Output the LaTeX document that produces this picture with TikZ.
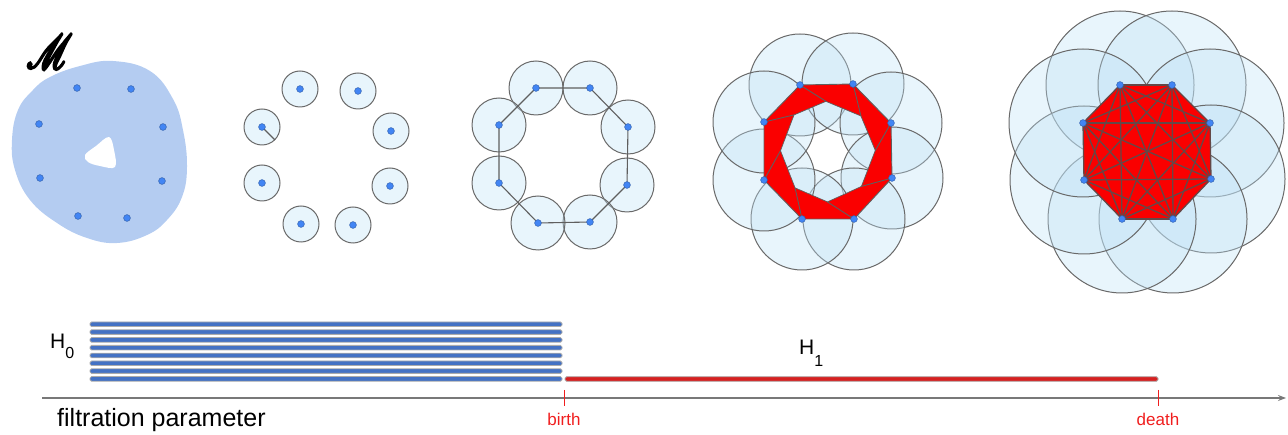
\documentclass[tikz,border=0pt]{standalone}
\usepackage{fontspec}
\setmainfont{Liberation Sans}
\usepackage{mathrsfs}
\usepackage{graphicx}
\usetikzlibrary{arrows.meta,calc}
\definecolor{blob}{RGB}{180,204,241}
\definecolor{dotc}{RGB}{66,133,244}
\definecolor{dotb}{RGB}{50,95,170}
\definecolor{circf}{RGB}{190,225,245}
\definecolor{circd}{RGB}{105,105,105}
\definecolor{edgec}{RGB}{95,95,95}
\definecolor{kedge}{RGB}{100,72,72}
\definecolor{redf}{RGB}{250,0,0}
\definecolor{barblue}{RGB}{68,114,196}
\definecolor{barred}{RGB}{214,32,32}
\definecolor{axisc}{RGB}{120,120,120}
\definecolor{labred}{RGB}{240,30,30}
\tikzset{
  dot/.style={circle, fill=dotc, draw=dotb, line width=0.5pt, inner sep=0pt, minimum size=6.8pt},
  circ/.style={fill=circf, fill opacity=0.35, draw=circd, draw opacity=1, line width=1pt},
  edge/.style={draw=edgec, line width=1.1pt},
  bar/.style={draw=gray!65, line width=0.8pt, rounded corners=1.5pt},
  lab/.style={font=\fontsize{21}{21}\selectfont, inner sep=0pt},
  redlab/.style={text=labred, font=\fontsize{17}{17}\selectfont, inner sep=0pt},
  tick/.style={draw=labred, line width=1pt}
}
\begin{document}
\begin{tikzpicture}[x=1pt,y=-1pt]
\useasboundingbox (0,0) rectangle (1288,435);

% ---------- panel 1: manifold ----------
\fill[blob] plot[smooth cycle, tension=0.7] coordinates {
 (50,77) (80,66) (113,61) (150,71) (173,99) (183,130) (187,167) (182,197)
 (167,220) (147,235) (117,243) (87,238) (57,223) (30,200) (15,170) (12,140) (18,110) (33,90)};
\fill[white] plot[smooth cycle, tension=0.6] coordinates {
 (109,137) (114,150) (115,167) (100,166) (88,162) (85,155) (96,146)};
\node[inner sep=0pt] (M) at (49.5,51.5)
  {\resizebox{46pt}{34pt}{\special{pdf:literal direct 2 Tr 0.5 w}$\mathscr{M}$\special{pdf:literal direct 0 Tr}}};
\foreach \n/\x/\y in {0/77/88,1/131/89,2/163/127,3/162/181,4/127/218,5/78/216,6/40/178,7/39/124}
  \node[dot] (a\n) at (\x,\y) {};

% ---------- panel 2 ----------
\foreach \n/\x/\y in {0/300/89,1/358/91,2/391/131,3/390/186,4/353/225,5/301/224,6/262/183,7/262/127}
  \coordinate (b\n) at (\x,\y);
\foreach \n in {0,...,7} \draw[circ] (b\n) circle[radius=18pt];
\coordinate (bs) at (275,140);
\draw[edge] (b7) -- (bs);
\foreach \n in {0,...,7} \node[dot] (db\n) at (b\n) {};

% ---------- panel 3 ----------
\foreach \n/\x/\y in {0/536/88,1/590/88,2/628/127,3/627/185,4/590/222,5/538/223,6/499/183,7/499/125}
  \coordinate (c\n) at (\x,\y);
\foreach \n in {0,...,7} \draw[circ] (c\n) circle[radius=27pt];
\draw[edge] (c0)--(c1)--(c2)--(c3)--(c4)--(c5)--(c6)--(c7)--cycle;
\foreach \n in {0,...,7} \node[dot] (dc\n) at (c\n) {};

% ---------- panel 4 ----------
\foreach \n/\x/\y in {0/800/85,1/853/84,2/891/123,3/892/178,4/854/219,5/802/219,6/764/180,7/764/122}
  \coordinate (d\n) at (\x,\y);
\foreach \n in {0,...,7} \draw[circ] (d\n) circle[radius=51pt];
\coordinate (cen) at (828,152);
\coordinate (k0) at (intersection of d7--d1 and d0--d2);
\coordinate (k1) at (intersection of d0--d2 and d1--d3);
\coordinate (k2) at (intersection of d1--d3 and d2--d4);
\coordinate (k3) at (intersection of d2--d4 and d3--d5);
\coordinate (k4) at (intersection of d3--d5 and d4--d6);
\coordinate (k5) at (intersection of d4--d6 and d5--d7);
\coordinate (k6) at (intersection of d5--d7 and d6--d0);
\coordinate (k7) at (intersection of d6--d0 and d7--d1);
\foreach \i in {0,...,7} \coordinate (m\i) at ($(cen)!0.9!(k\i)$);
\fill[redf, even odd rule] (d0)--(d1)--(d2)--(d3)--(d4)--(d5)--(d6)--(d7)--cycle
   (m0)--(m1)--(m2)--(m3)--(m4)--(m5)--(m6)--(m7)--cycle;
\draw[edge, line width=0.9pt] (d0)--(d1)--(d2)--(d3)--(d4)--(d5)--(d6)--(d7)--cycle;
\draw[edge, line width=0.7pt] (m0)--(m1)--(m2)--(m3)--(m4)--(m5)--(m6)--(m7)--cycle;
\foreach \i in {0,...,7} \draw[edge, line width=0.9pt] (d\i) -- (m\i);
\foreach \n in {0,...,7} \node[dot] (dd\n) at (d\n) {};

% ---------- panel 5 ----------
\foreach \n/\x/\y in {0/1120/85,1/1172/85,2/1210/123,3/1211/179,4/1173/219,5/1122/219,6/1084/180,7/1083/123}
  \coordinate (e\n) at (\x,\y);
\foreach \n in {0,...,7} \draw[circ] (e\n) circle[radius=74pt];
\fill[redf] (e0)--(e1)--(e2)--(e3)--(e4)--(e5)--(e6)--(e7)--cycle;
\foreach \i in {0,...,6} {
  \pgfmathtruncatemacro\s{\i+1}
  \foreach \j in {\s,...,7} \draw[draw=kedge, line width=1.3pt] (e\i) -- (e\j);
}
\foreach \n in {0,...,7} \node[dot] (de\n) at (e\n) {};

% ---------- barcode ----------
\foreach \k in {0,...,7} {
  \pgfmathsetmacro\yy{324.3+7.8*\k}
  \filldraw[bar, fill=barblue] (90,\yy-2.3) rectangle (562,\yy+2.3);
}
\filldraw[bar, fill=barred] (565,376.7) rectangle (1158,381.3);

\node[lab, anchor=base west] (H0) at (50,349) {H\raisebox{-10pt}{\fontsize{16}{16}\selectfont 0}};
\node[lab, anchor=base west] (H1) at (799,355) {H\raisebox{-12pt}{\fontsize{16}{16}\selectfont 1}};

% axis
\coordinate (ax0) at (42,398);
\coordinate (ax1) at (1286,398);
\draw[axisc, line width=1.2pt, -{Stealth[length=8pt,width=6pt]}] (ax0) -- (ax1);
\coordinate (bt0) at (564,390); \coordinate (bt1) at (564,406);
\coordinate (dt0) at (1158,390); \coordinate (dt1) at (1158,406);
\draw[tick] (bt0) -- (bt1);
\draw[tick] (dt0) -- (dt1);
\node[redlab, anchor=base] (birth) at (564,425) {birth};
\node[redlab, anchor=base] (death) at (1158,425) {death};
\node[inner sep=0pt, anchor=base west, font=\fontsize{25}{25}\selectfont] (fp) at (57,427) {filtration parameter};
\end{tikzpicture}
\end{document}
